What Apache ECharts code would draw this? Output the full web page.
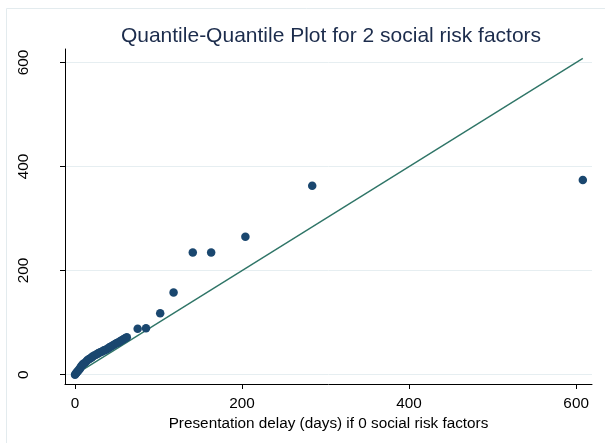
<!DOCTYPE html>
<html>
<head>
<meta charset="utf-8">
<script src="https://cdn.jsdelivr.net/npm/echarts@6/dist/echarts.min.js"></script>
<style>html,body{margin:0;padding:0;background:#fff}#c{width:605px;height:443px}</style>
</head>
<body>
<div id="c"></div>
<script>
// Quantiles: x = 0 social risk factors, y = 2 social risk factors
const qx = [0,1,2,3,4,5,6,7,8,9,10,12,14,15,17,18,20,21,23,25,27,28,30,32,34,35,37,39,41,42,44,46,48,50,52,54,56,58,60,62,75,85,102,118,141,163,204,284,608];
const qy = [0,2,4,6,8,10,12,15,17,19,21,23,26,28,30,31,33,35,37,38,40,41,43,44,46,47,48,50,52,53,55,57,59,61,62,64,66,68,70,72,88,89,118,158,235,235,265,363,374];
const refLine = [[0,0],[608,608]];
const tickValues = [0,200,400,600];
const titleText = 'Quantile-Quantile Plot for 2 social risk factors';
const xTitle = 'Presentation delay (days) if 0 social risk factors';

const chart = echarts.init(document.getElementById('c'), null, {renderer:'canvas'});
const FONT = 'Liberation Sans, Arial, sans-serif';
chart.setOption({
  animation:false,
  backgroundColor:'#ffffff',
  title:{text:titleText,left:326,top:21,textAlign:'center',
    textStyle:{fontFamily:FONT,fontSize:21,fontWeight:'normal',color:'#1c2c4c'}},
  graphic:[{type:'rect',shape:{x:6.5,y:8.5,width:620,height:460},
    style:{fill:null,stroke:'#e3ebee',lineWidth:1},silent:true,z:-1}],
  grid:{left:65,right:13,top:49,bottom:59,containLabel:false},
  xAxis:{type:'value',min:-12,max:619,
    name:xTitle,nameLocation:'middle',nameGap:17,
    nameTextStyle:{fontFamily:FONT,fontSize:15.3,color:'#000'},
    axisLine:{show:true,onZero:false,lineStyle:{color:'#000',width:1}},
    axisTick:{show:true,inside:false,length:5,customValues:tickValues,lineStyle:{color:'#000'}},
    axisLabel:{customValues:tickValues,margin:12,fontFamily:FONT,fontSize:15.3,color:'#000'},
    splitLine:{show:false}},
  yAxis:{type:'value',min:-18,max:626,
    axisLine:{show:true,onZero:false,lineStyle:{color:'#000',width:1}},
    axisTick:{show:true,inside:false,length:5,customValues:tickValues,lineStyle:{color:'#000'}},
    axisLabel:{customValues:tickValues,rotate:90,margin:34,fontFamily:FONT,fontSize:15.3,color:'#000'},
    splitLine:{show:true,lineStyle:{color:'#e6eef1',width:1}}},
  series:[
    {type:'line',data:refLine,symbol:'none',lineStyle:{color:'#2f7567',width:1.4},z:3},
    {type:'scatter',data:qx.map((v,i)=>[v,qy[i]]),symbol:'circle',symbolSize:8.5,
      itemStyle:{color:'#1a476f',opacity:1},z:4}
  ]
});
</script>
</body>
</html>
